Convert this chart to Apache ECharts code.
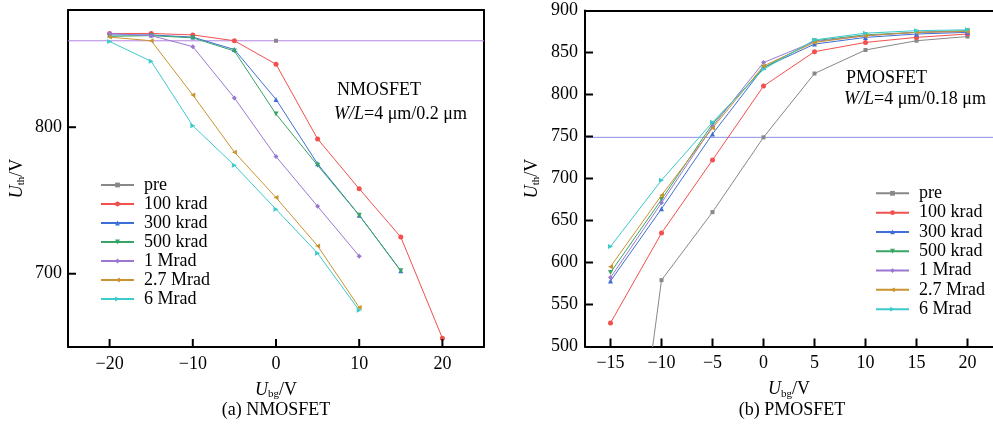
<!DOCTYPE html>
<html>
<head>
<meta charset="utf-8">
<script src="https://cdn.jsdelivr.net/npm/echarts@6/dist/echarts.min.js"></script>
<style>
html,body{margin:0;padding:0;background:#fff;}
#chart{width:993px;height:425px;}
</style>
</head>
<body>
<div id="chart"></div>
<script>
// Back-gate voltage sweep points (V)
const ubgN = [-20, -15, -10, -5, 0, 5, 10, 15, 20];
const ubgP = [-15, -10, -5, 0, 5, 10, 15, 20];

const doseNames = ['pre', '100 krad', '300 krad', '500 krad', '1 Mrad', '2.7 Mrad', '6 Mrad'];

// NMOSFET threshold voltage (mV) per dose, aligned with ubgN (null = not measured)
const nPre   = [null, null, null, null, 859, null, null, null, null];
const n100k  = [864, 864, 863, 859, 843, 792, 758, 725, 656];
const n300k  = [863, 863, 861.5, 853, 819, 775, 740, 702, null];
const n500k  = [862, 862.5, 861, 852, 809, 774, 740, 702, null];
const n1M    = [864, 862.5, 855, 820, 780, 746, 712, null, null];
const n2_7M  = [861.5, 859, 822, 783, 752, 719, 677, null, null];
const n6M    = [858.5, 845, 801, 774, 744, 714, 675, null, null];

// PMOSFET threshold voltage (mV) per dose, aligned with ubgP
const pPre   = [122, 579, 660, 749, 825, 853, 864, 869];
const p100k  = [528, 635, 722, 810, 851, 862, 868, 872];
const p300k  = [578, 664, 753, 832, 860, 868, 872, 874];
const p500k  = [588, 675, 765, 832, 864, 871, 874, 876];
const p1M    = [582, 671, 762, 838, 863, 870, 874, 875];
const p2_7M  = [595, 680, 760, 834, 862, 870, 874, 875];
const p6M    = [619, 698, 767, 830, 865, 873, 876, 877];

// Pre-irradiation reference levels
const refN = 859;
const refP = 749;

// Axis ranges and ticks
const nXRange = [-25, 25];
const nYRange = [650, 880];
const pXRange = [-17.5, 22.5];
const pYRange = [500, 900];
const nXTicks = [-20, -10, 0, 10, 20];
const nYTicks = [700, 800];
const pXTicks = [-15, -10, -5, 0, 5, 10, 15, 20];
const pYTicks = [550, 600, 650, 700, 750, 800, 850];

const nSeries = [nPre, n100k, n300k, n500k, n1M, n2_7M, n6M];
const pSeries = [pPre, p100k, p300k, p500k, p1M, p2_7M, p6M];

const colors = ['#888888', '#f2504f', '#3d6fd6', '#38a566', '#9a78d2', '#c99530', '#3ccaca'];
const symbols = ['rect', 'circle', 'triangle', 'path://M0,0 L10,0 L5,9 Z', 'diamond', 'path://M9,0 L9,10 L0,5 Z', 'path://M0,0 L0,10 L9,5 Z'];
const FONT = '"Liberation Serif", "Times New Roman", serif';

function pairs(xs, ys) {
  const out = [];
  xs.forEach((x, i) => { if (ys[i] !== null) out.push([x, ys[i]]); });
  return out;
}

const minus = v => String(v).replace('-', '\u2212');

const richName = {
  i: { fontFamily: FONT, fontSize: 18, fontStyle: 'italic', color: '#000' },
  s: { fontFamily: FONT, fontSize: 11, color: '#000', padding: [9, 0, 0, 0] },
  n: { fontFamily: FONT, fontSize: 18, color: '#000' }
};

const frameLine = () => ({ show: true, onZero: false, lineStyle: { color: '#000', width: 2 } });

function bottomAxis(gridIndex, range, ticks) {
  return {
    type: 'value', gridIndex, min: range[0], max: range[1], position: 'bottom',
    name: '{i|U}{s|bg}{n|/V}', nameLocation: 'middle', nameGap: 33,
    nameTextStyle: { rich: richName },
    axisLine: frameLine(),
    axisTick: { show: false },
    axisLabel: { customValues: ticks, formatter: minus, fontFamily: FONT, fontSize: 18, color: '#000', margin: 8 },
    splitLine: { show: false }
  };
}

function leftAxis(gridIndex, range, ticks, gap, margin) {
  return {
    type: 'value', gridIndex, min: range[0], max: range[1], position: 'left',
    name: '{i|U}{s|th}{n|/V}', nameLocation: 'middle', nameGap: gap, nameRotate: 90,
    nameTextStyle: { rich: richName },
    axisLine: frameLine(),
    axisTick: { show: false },
    axisLabel: { customValues: ticks, fontFamily: FONT, fontSize: 18, color: '#000', margin },
    splitLine: { show: false }
  };
}

// Plain frame edge (top / right), no ticks or labels
function edgeAxis(gridIndex, range, position) {
  return {
    type: 'value', gridIndex, min: range[0], max: range[1], position,
    axisLine: frameLine(), axisTick: { show: false }, axisLabel: { show: false }, splitLine: { show: false }
  };
}

// Inward tick marks placed through the axis scales
function tickSeries(name, idx, points, dir) {
  return {
    name, type: 'custom', xAxisIndex: idx, yAxisIndex: idx,
    silent: true, clip: false, z: 10, animation: false,
    data: points, encode: { x: 0, y: 1 },
    renderItem: (params, api) => {
      const p = api.coord([api.value(0), api.value(1)]);
      const x2 = dir === 'x' ? p[0] : p[0] + 8;
      const y2 = dir === 'x' ? p[1] - 8 : p[1];
      return { type: 'line', shape: { x1: p[0], y1: p[1], x2, y2 }, style: { stroke: '#000', lineWidth: 2 } };
    }
  };
}

function refSeries(name, idx, xRange, value, color) {
  return {
    name, type: 'line', xAxisIndex: idx, yAxisIndex: idx,
    data: [[xRange[0], value], [xRange[1], value]],
    symbol: 'none', silent: true, animation: false, z: 2,
    lineStyle: { color, width: 1, type: 'solid' },
    itemStyle: { color }
  };
}

function buildSeries(list, xs, idx) {
  return list.map((ys, k) => ({
    name: doseNames[k], type: 'line',
    xAxisIndex: idx, yAxisIndex: idx,
    data: pairs(xs, ys),
    symbol: symbols[k], symbolSize: k === 0 ? 4 : 5,
    lineStyle: { width: 1, color: colors[k] },
    itemStyle: { color: colors[k] },
    clip: true, animation: false, z: 3 + k
  }));
}

const legendBase = {
  orient: 'vertical', padding: 0, itemGap: 0, itemWidth: 33, itemHeight: 6,
  data: doseNames,
  textStyle: { fontFamily: FONT, fontSize: 18, color: '#000', padding: [0, 0, 0, 5] }
};

const chart = echarts.init(document.getElementById('chart'), null, { renderer: 'canvas' });
chart.setOption({
  backgroundColor: '#fff',
  animation: false,
  grid: [
    { left: 68, top: 10, width: 416, height: 337, show: false },
    { left: 585, top: 10.5, width: 415, height: 336, show: false }
  ],
  xAxis: [
    bottomAxis(0, nXRange, nXTicks),
    bottomAxis(1, pXRange, pXTicks),
    edgeAxis(0, nXRange, 'top'),
    edgeAxis(1, pXRange, 'top')
  ],
  yAxis: [
    leftAxis(0, nYRange, nYTicks, 41, 6),
    Object.assign(leftAxis(1, pYRange, null, 43, 7), { interval: 50, axisLabel: { fontFamily: FONT, fontSize: 18, color: '#000', margin: 7 } }),
    edgeAxis(0, nYRange, 'right')
  ],
  legend: [
    Object.assign({}, legendBase, { left: 100, top: 175.5, textStyle: Object.assign({}, legendBase.textStyle, { lineHeight: 19 }) }),
    Object.assign({}, legendBase, { left: 875, top: 183.7, textStyle: Object.assign({}, legendBase.textStyle, { lineHeight: 19.3 }) })
  ],
  series: [
    refSeries('ref-n', 0, nXRange, refN, '#b585e0'),
    refSeries('ref-p', 1, pXRange, refP, '#8c8ce6')
  ].concat(
    buildSeries(nSeries, ubgN, 0),
    buildSeries(pSeries, ubgP, 1),
    [
      tickSeries('tick-nx', 0, nXTicks.map(v => [v, nYRange[0]]), 'x'),
      tickSeries('tick-ny', 0, nYTicks.map(v => [nXRange[0], v]), 'y'),
      tickSeries('tick-px', 1, pXTicks.map(v => [v, pYRange[0]]), 'x'),
      tickSeries('tick-py', 1, pYTicks.map(v => [pXRange[0], v]), 'y')
    ]
  ),
  graphic: [
    { type: 'text', left: 337, top: 81, style: { text: 'NMOSFET', font: '18px ' + FONT, fill: '#000' } },
    { type: 'text', left: 334, top: 105, style: { text: '{i|W}{i|/}{i|L}{n|=4 μm/0.2 μm}', rich: richName, fill: '#000' } },
    { type: 'text', left: 846, top: 69, style: { text: 'PMOSFET', font: '18px ' + FONT, fill: '#000' } },
    { type: 'text', left: 844, top: 90, style: { text: '{i|W}{i|/}{i|L}{n|=4 μm/0.18 μm}', rich: richName, fill: '#000' } },
    { type: 'text', x: 276, y: 410, style: { text: '(a) NMOSFET', font: '18px ' + FONT, fill: '#000', align: 'center', verticalAlign: 'middle' } },
    { type: 'text', x: 792, y: 410, style: { text: '(b) PMOSFET', font: '18px ' + FONT, fill: '#000', align: 'center', verticalAlign: 'middle' } }
  ]
});
</script>
</body>
</html>
